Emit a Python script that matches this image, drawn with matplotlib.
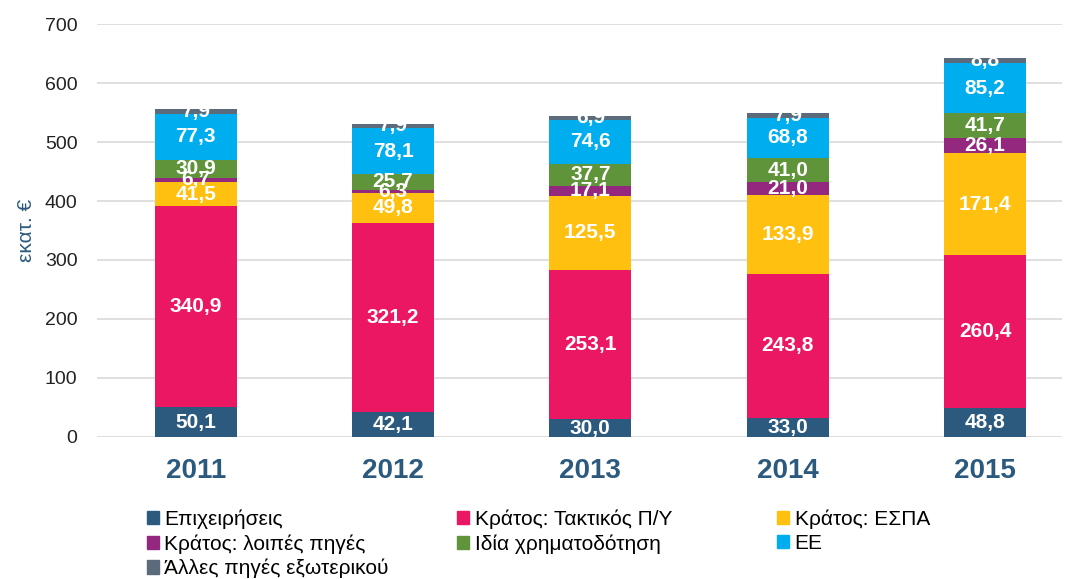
import numpy as np
import matplotlib.pyplot as plt
from matplotlib.patches import Patch

plt.rcParams['font.family'] = ['Liberation Sans', 'DejaVu Sans']

# years on the x axis
years = ['2011', '2012', '2013', '2014', '2015']

# series names (legend order)
series = ['Επιχειρήσεις', 'Κράτος: Τακτικός Π/Υ', 'Κράτος: ΕΣΠΑ',
          'Κράτος: λοιπές πηγές', 'Ιδία χρηματοδότηση', 'ΕΕ',
          'Άλλες πηγές εξωτερικού']

# values per series, in millions of euro
epixeiriseis = [50.1, 42.1, 30.0, 33.0, 48.8]
taktikos = [340.9, 321.2, 253.1, 243.8, 260.4]
espa = [41.5, 49.8, 125.5, 133.9, 171.4]
loipes = [6.7, 6.3, 17.1, 21.0, 26.1]
idia = [30.9, 25.7, 37.7, 41.0, 41.7]
ee = [77.3, 78.1, 74.6, 68.8, 85.2]
alles = [7.9, 7.9, 6.9, 7.9, 8.8]

colors = ['#2C5A7F', '#EC1763', '#FFC010', '#93287E', '#5F943A', '#00AEEF', '#5B6B7B']

data = [epixeiriseis, taktikos, espa, loipes, idia, ee, alles]

fig = plt.figure(figsize=(10.7, 5.79), dpi=100)
ax = fig.add_axes([0.0907, 0.2453, 0.9018, 0.7132])

x = np.arange(len(years))
bottom = np.zeros(len(years))
handles = []
for name, vals, c in zip(series, data, colors):
    vals = np.array(vals)
    ax.bar(x, vals, 0.415, bottom=bottom, color=c, zorder=3)
    for xi, b, v in zip(x, bottom, vals):
        ax.text(xi, b + v / 2, f'{v:.1f}'.replace('.', ','), ha='center', va='center',
                color='white', fontsize=15, fontweight='bold', zorder=4)
    bottom += vals
    handles.append(Patch(color=c, label=name))

ax.set_ylim(0, 700)
ax.set_xlim(-0.50, 4.39)
ax.set_yticks(range(0, 701, 100))
ax.yaxis.grid(True, color='#D9D9D9', linewidth=1.2, zorder=0)
ax.set_xticks(x)
ax.set_xticklabels(years, fontsize=20, fontweight='bold', color='#2C5A7F')
ax.tick_params(axis='y', labelsize=14, colors='#222222', length=0, pad=14)
ax.tick_params(axis='x', length=0, pad=15)
for s in ax.spines.values():
    s.set_visible(False)
ax.set_ylabel('εκατ. €', fontsize=15, color='#2C5A7F')
ax.yaxis.set_label_coords(-0.063, 0.5)

# legend laid out as three columns, filled row by row
columns = [[0, 3, 6], [1, 4], [2, 5]]
col_x = [0.137, 0.427, 0.726]
for cx, idx in zip(col_x, columns):
    leg = fig.legend([handles[i] for i in idx], [series[i] for i in idx],
                     loc='upper left', bbox_to_anchor=(cx, 0.120), frameon=False,
                     fontsize=15, handlelength=0.6, handleheight=0.6, handletextpad=0.25,
                     labelspacing=0.25, borderpad=0, borderaxespad=0)

fig.savefig('out.png', dpi=100)
